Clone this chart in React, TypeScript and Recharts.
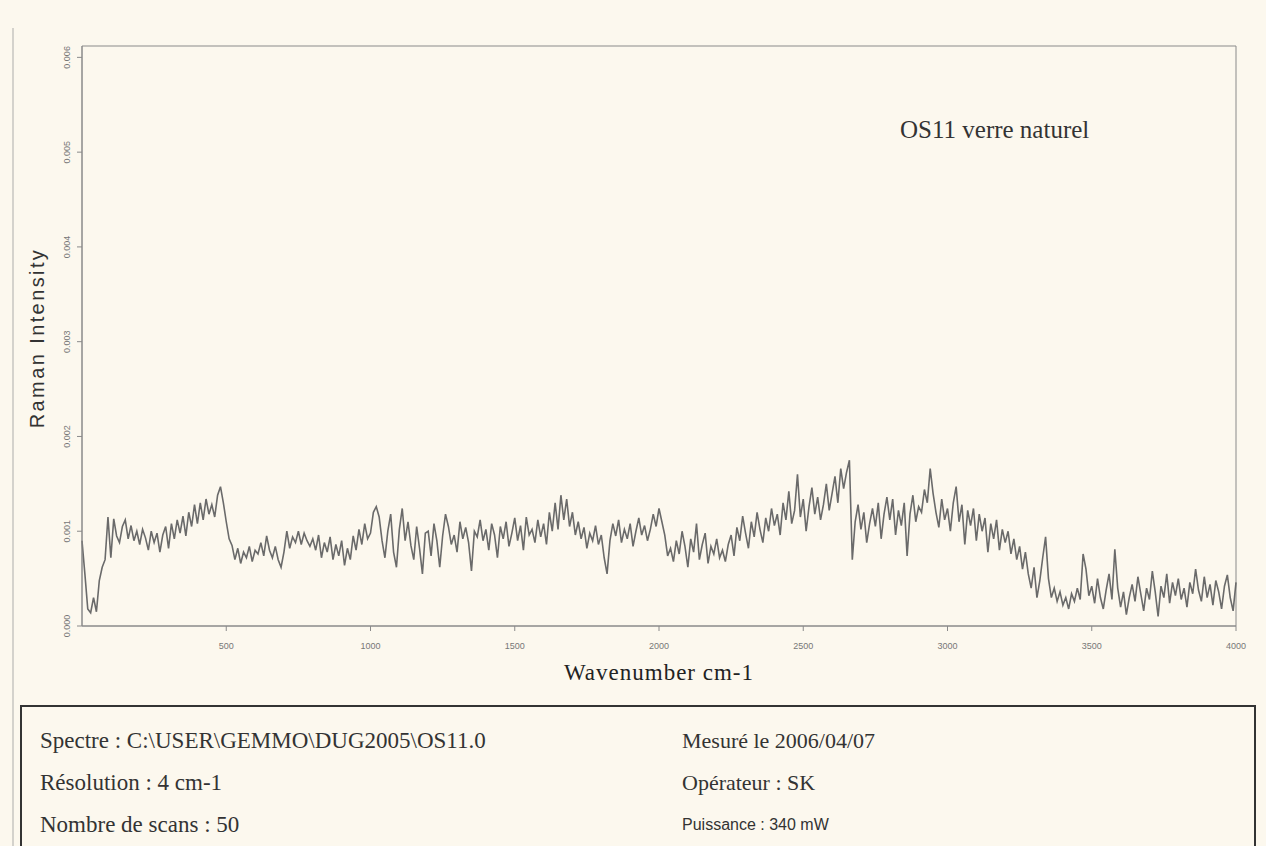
import { LineChart, Line, XAxis, YAxis, ReferenceArea } from "recharts"

// Raman spectrum OS11, sampled every 10 cm-1 from 0 to 4000 (values in 1e-3 units)
const START_WN = 0
const STEP_WN = 10
const intensityMilli = [
  0.9, 0.55, 0.18, 0.14, 0.3, 0.15, 0.48, 0.62, 0.7, 1.15, 0.72, 1.13, 0.95, 0.88, 1.05, 1.12, 0.92, 1.06, 0.9, 1.0,
  0.86, 1.02, 0.93, 0.8, 1.0, 0.88, 0.98, 0.78, 0.96, 1.05, 0.82, 1.08, 0.92, 1.12, 0.98, 1.16, 0.95, 1.2, 1.05, 1.28,
  1.08, 1.3, 1.12, 1.34, 1.18, 1.28, 1.15, 1.38, 1.47, 1.3, 1.1, 0.92, 0.85, 0.7, 0.82, 0.66, 0.78, 0.72, 0.84, 0.68,
  0.8, 0.76, 0.88, 0.74, 0.95, 0.8, 0.72, 0.84, 0.7, 0.62, 0.78, 1.0, 0.82, 0.94, 0.88, 1.0, 0.86, 0.98, 0.9, 0.84,
  0.92, 0.8, 0.96, 0.72, 0.88, 0.78, 0.94, 0.7, 0.86, 0.74, 0.9, 0.64, 0.82, 0.7, 0.95, 0.8, 1.02, 0.86, 1.08, 0.92,
  0.98, 1.2, 1.26, 1.15, 0.9, 0.72, 1.0, 1.18, 0.78, 0.62, 1.02, 1.24, 0.9, 1.1, 0.85, 0.7, 1.05, 0.82, 0.55, 0.98,
  1.0, 0.74, 1.08, 0.9, 0.62, 0.95, 1.18, 1.05, 0.86, 0.96, 0.78, 1.1, 0.92, 1.04, 0.88, 0.58, 1.0, 0.94, 1.12, 0.9,
  1.02, 0.8, 1.08, 0.96, 0.72, 1.05, 0.92, 1.1, 0.84, 0.98, 1.14, 0.9, 1.06, 0.8, 1.15, 0.96, 1.02, 0.88, 1.12, 0.94,
  1.08, 0.86, 1.2, 1.0, 1.3, 1.02, 1.38, 1.12, 1.34, 1.05, 1.2, 0.96, 1.1, 0.92, 1.04, 0.82, 0.98, 0.9, 1.06, 0.86,
  0.96, 0.72, 0.55, 0.9, 1.08, 0.95, 1.12, 0.88, 1.02, 0.92, 1.08, 0.84, 1.0, 1.14, 0.96, 1.06, 0.9, 1.02, 1.18, 1.05,
  1.24, 1.1, 0.96, 0.74, 0.82, 0.68, 0.9, 0.76, 1.0, 0.84, 0.62, 0.92, 0.78, 1.08, 0.7, 0.86, 0.98, 0.66, 0.84, 0.76,
  0.92, 0.72, 0.8, 0.68, 0.86, 0.96, 0.74, 1.04, 0.9, 1.16, 0.98, 0.82, 1.1, 0.94, 1.2, 1.02, 0.88, 1.14, 1.0, 1.24,
  1.06, 1.18, 0.96, 1.3, 1.12, 1.42, 1.08, 1.22, 1.6, 1.15, 1.34, 1.0, 1.26, 1.46, 1.18, 1.36, 1.12, 1.28, 1.5, 1.22,
  1.4, 1.58, 1.3, 1.66, 1.45, 1.62, 1.75, 0.7, 1.1, 1.28, 1.02, 1.2, 0.88, 1.08, 1.24, 1.05, 1.3, 0.92, 1.18, 1.36,
  1.12, 1.34, 0.96, 1.22, 1.06, 1.3, 0.74, 1.18, 1.38, 1.1, 1.26, 1.2, 1.44, 1.3, 1.66, 1.4, 1.2, 1.04, 1.34, 1.12,
  1.24, 1.0, 1.3, 1.47, 1.1, 1.28, 0.86, 1.22, 1.06, 1.24, 0.9, 1.18, 1.0, 1.14, 0.78, 1.08, 0.92, 1.12, 0.8, 1.02,
  0.88, 1.0, 0.76, 0.92, 0.7, 0.84, 0.6, 0.78, 0.55, 0.4, 0.62, 0.3, 0.48, 0.72, 0.94, 0.5, 0.3, 0.4, 0.26, 0.36,
  0.22, 0.3, 0.18, 0.34, 0.26, 0.4, 0.28, 0.76, 0.6, 0.32, 0.42, 0.24, 0.5, 0.3, 0.18, 0.38, 0.55, 0.28, 0.81, 0.4,
  0.2, 0.36, 0.12, 0.3, 0.44, 0.26, 0.52, 0.34, 0.16, 0.4, 0.28, 0.58, 0.36, 0.1, 0.42, 0.3, 0.55, 0.24, 0.46, 0.32,
  0.5, 0.28, 0.4, 0.2, 0.46, 0.34, 0.6, 0.38, 0.26, 0.52, 0.3, 0.44, 0.22, 0.48, 0.36, 0.18, 0.42, 0.54, 0.3, 0.16,
  0.46,
]

const xTicks = [500, 1000, 1500, 2000, 2500, 3000, 3500, 4000]
const yTicks = [0, 0.001, 0.002, 0.003, 0.004, 0.005, 0.006]

const infoLeft = ["Spectre : C:\\USER\\GEMMO\\DUG2005\\OS11.0", "Résolution : 4 cm-1", "Nombre de scans : 50"]
const infoRight = ["Mesuré le 2006/04/07", "Opérateur : SK", "Puissance : 340 mW"]

const PAPER = "#fcf8ee"
const AXIS = "#8a8a8a"
const TICK_TEXT = "#777"
const INK = "#333"
const SERIF = "'Liberation Serif', 'DejaVu Serif', serif"
const SANS = "'Liberation Sans', Arial, sans-serif"

const data = intensityMilli.map((v, i) => ({ wn: START_WN + i * STEP_WN, intensity: v / 1000 }))

function YTick({ x, y, payload }: { x?: number; y?: number; payload?: { value: number } }) {
  if (x == null || y == null || !payload) return null
  const cx = x - 8
  return (
    <text
      x={cx}
      y={y}
      dy={3}
      transform={`rotate(-90 ${cx} ${y})`}
      textAnchor="middle"
      fontSize={9}
      fontFamily={SANS}
      fill={TICK_TEXT}
    >
      {payload.value.toFixed(3)}
    </text>
  )
}

function YLabel() {
  return (
    <text
      x={38}
      y={338}
      dy={6}
      transform="rotate(-90 38 338)"
      textAnchor="middle"
      fontSize={20}
      letterSpacing={2.4}
      fontFamily={SANS}
      fill={INK}
    >
      Raman Intensity
    </text>
  )
}

function XLabel() {
  return (
    <text x={659} y={680} textAnchor="middle" fontSize={23} letterSpacing={1} fontFamily={SERIF} fill="#222">
      Wavenumber cm-1
    </text>
  )
}

export default function App() {
  return (
    <div style={{ position: "absolute", left: 0, top: 0, width: 1266, height: 846, background: PAPER, overflow: "hidden" }}>
      <div style={{ position: "absolute", left: 12, top: 28, width: 2, height: 818, background: "#d4d2cc" }} />
      <LineChart
        width={1266}
        height={846}
        data={data}
        margin={{ top: 46, right: 30, bottom: 160, left: 0 }}
      >
        <XAxis
          dataKey="wn"
          type="number"
          domain={[0, 4000]}
          ticks={xTicks}
          height={60}
          stroke={AXIS}
          tickSize={5}
          tick={{ fill: TICK_TEXT, fontSize: 9, fontFamily: SANS }}
          tickMargin={12}
          label={<XLabel />}
        />
        <YAxis
          type="number"
          domain={[0, 0.00612]}
          ticks={yTicks}
          width={82}
          stroke={AXIS}
          tickSize={5}
          tick={<YTick />}
          allowDataOverflow
          label={<YLabel />}
        />
        <ReferenceArea x1={0} x2={4000} y1={0} y2={0.00612} fill="none" stroke={AXIS} strokeWidth={1} />
        <Line
          type="linear"
          dataKey="intensity"
          stroke="#6a6a6a"
          strokeWidth={1.6}
          dot={false}
          isAnimationActive={false}
        />
      </LineChart>
      <div
        style={{
          position: "absolute",
          left: 900,
          top: 116,
          fontFamily: SERIF,
          fontSize: 25,
          color: INK,
          whiteSpace: "nowrap",
        }}
      >
        OS11 verre naturel
      </div>
      <div
        style={{
          position: "absolute",
          left: 20,
          top: 705,
          width: 1236,
          height: 160,
          border: "2px solid #333",
          boxSizing: "border-box",
        }}
      >
        {infoLeft.map((t, i) => (
          <div
            key={t}
            style={{
              position: "absolute",
              left: 18,
              top: 20 + i * 42,
              fontFamily: SERIF,
              fontSize: 23,
              lineHeight: "28px",
              color: INK,
              whiteSpace: "nowrap",
            }}
          >
            {t}
          </div>
        ))}
        {infoRight.map((t, i) => (
          <div
            key={t}
            style={{
              position: "absolute",
              left: 660,
              top: 20 + i * 42,
              fontFamily: i === 2 ? SANS : SERIF,
              fontSize: i === 2 ? 16 : 22,
              lineHeight: "28px",
              color: INK,
              whiteSpace: "nowrap",
            }}
          >
            {t}
          </div>
        ))}
      </div>
    </div>
  )
}
